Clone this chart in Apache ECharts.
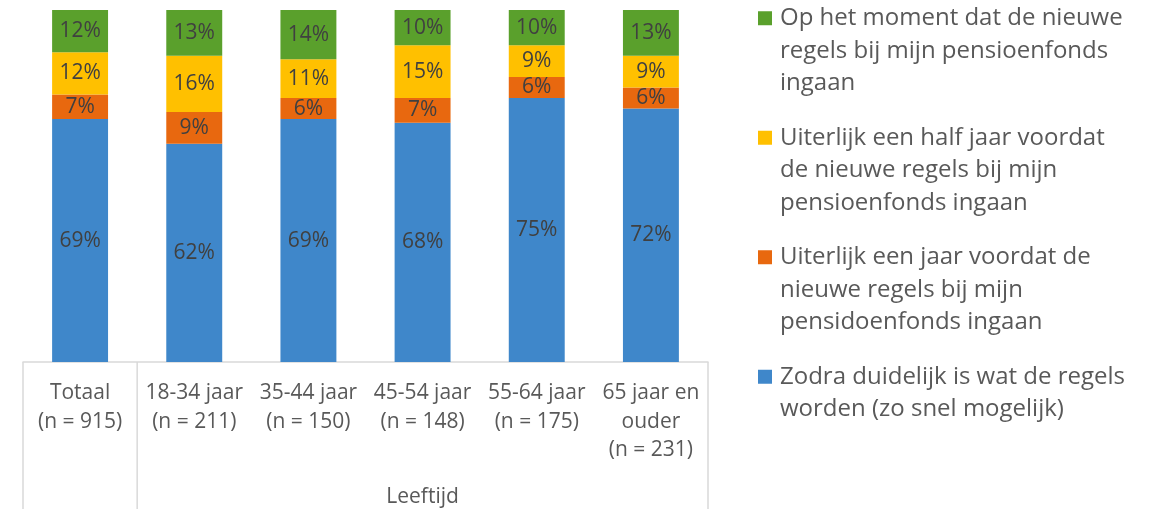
<!DOCTYPE html>
<html>
<head>
<meta charset="utf-8">
<script src="https://cdn.jsdelivr.net/npm/echarts@6/dist/echarts.min.js"></script>
<style>
html,body{margin:0;padding:0;background:#fff;}
#chart{width:1153px;height:509px;}
</style>
</head>
<body>
<div id="chart"></div>
<script>
var categories = ['Totaal\n(n = 915)', '18-34 jaar\n(n = 211)', '35-44 jaar\n(n = 150)', '45-54 jaar\n(n = 148)', '55-64 jaar\n(n = 175)', '65 jaar en\nouder\n(n = 231)'];
var groupLabel = 'Leeftijd';
var seriesNames = [
  'Zodra duidelijk is wat de regels worden (zo snel mogelijk)',
  'Uiterlijk een jaar voordat de nieuwe regels bij mijn pensidoenfonds ingaan',
  'Uiterlijk een half jaar voordat de nieuwe regels bij mijn pensioenfonds ingaan',
  'Op het moment dat de nieuwe regels bij mijn pensioenfonds ingaan'
];
var legendLines = [
  ['Zodra duidelijk is wat de regels', 'worden (zo snel mogelijk)'],
  ['Uiterlijk een jaar voordat de', 'nieuwe regels bij mijn', 'pensidoenfonds ingaan'],
  ['Uiterlijk een half jaar voordat', 'de nieuwe regels bij mijn', 'pensioenfonds ingaan'],
  ['Op het moment dat de nieuwe', 'regels bij mijn pensioenfonds', 'ingaan']
];
var zodra = [69, 62, 69, 68, 75, 72];
var jaar = [7, 9, 6, 7, 6, 6];
var halfJaar = [12, 16, 11, 15, 9, 9];
var moment = [12, 13, 14, 10, 10, 13];
var colors = ['#3F87CA', '#E8680F', '#FFC000', '#5AA02C'];

var values = [zodra, jaar, halfJaar, moment];
var FONT = 'Open Sans';

var chart = echarts.init(document.getElementById('chart'), null, {renderer: 'canvas'});

var rich = {
  t: {fontSize: 24, lineHeight: 32.5, color: '#595959', fontFamily: FONT},
  gap: {width: 8, height: 14},
  pad: {width: 22, height: 14}
};
colors.forEach(function (c, i) {
  rich['sq' + i] = {width: 14, height: 14, backgroundColor: c, verticalAlign: 'middle'};
});

var series = seriesNames.map(function (name, i) {
  return {
    name: name,
    type: 'bar',
    stack: 'total',
    barWidth: '49%',
    data: values[i],
    itemStyle: {color: colors[i]},
    label: {
      show: true,
      position: 'inside',
      formatter: '{c}%',
      color: '#404040',
      fontSize: 21,
      fontFamily: FONT
    }
  };
});

var option = {
  animation: false,
  textStyle: {fontFamily: FONT},
  grid: {left: 23, right: 445, top: 10, bottom: 147, containLabel: false},
  legend: {
    orient: 'vertical',
    left: 753,
    top: 2,
    padding: 0,
    itemGap: 22,
    itemWidth: 0,
    itemHeight: 14,
    icon: 'none',
    selectedMode: false,
    data: seriesNames.slice().reverse(),
    formatter: function (name) {
      var idx = seriesNames.indexOf(name);
      var lines = legendLines[idx];
      return lines.map(function (l, j) {
        return (j === 0 ? '{sq' + idx + '|}{gap|}' : '{pad|}') + '{t|' + l + '}';
      }).join('\n');
    },
    textStyle: {rich: rich, fontSize: 24, color: '#595959', lineHeight: 32.5}
  },
  xAxis: {
    type: 'category',
    data: categories,
    axisLine: {show: true, lineStyle: {color: '#D9D9D9', width: 1.5}},
    axisTick: {show: false},
    axisLabel: {
      interval: 0,
      color: '#595959',
      fontSize: 21,
      lineHeight: 28.5,
      margin: 17,
      fontFamily: FONT
    }
  },
  yAxis: {
    type: 'value',
    min: 0,
    max: 100,
    show: false,
    splitLine: {show: false}
  },
  series: series
};
chart.setOption(option);

// axis decoration: category separators and group label, derived from the axis scale
var c0 = chart.convertToPixel({xAxisIndex: 0}, 0);
var c1 = chart.convertToPixel({xAxisIndex: 0}, 1);
var cLast = chart.convertToPixel({xAxisIndex: 0}, categories.length - 1);
var bw = c1 - c0;
var yBase = chart.convertToPixel({yAxisIndex: 0}, 0);
var H = chart.getHeight();
var lineStyle = {stroke: '#D9D9D9', lineWidth: 1.5};
var xs = [c0 - bw / 2, c1 - bw / 2, cLast + bw / 2];
var groupCenter = ((c1 - bw / 2) + (cLast + bw / 2)) / 2;
var graphics = xs.map(function (x) {
  return {type: 'line', shape: {x1: x, y1: yBase, x2: x, y2: H}, style: lineStyle, silent: true};
});
graphics.push({
  type: 'text',
  x: groupCenter,
  y: yBase + 135,
  style: {text: groupLabel, fill: '#595959', font: '21px "' + FONT + '"', textAlign: 'center', textVerticalAlign: 'middle'},
  silent: true
});
chart.setOption({graphic: graphics});
</script>
</body>
</html>
